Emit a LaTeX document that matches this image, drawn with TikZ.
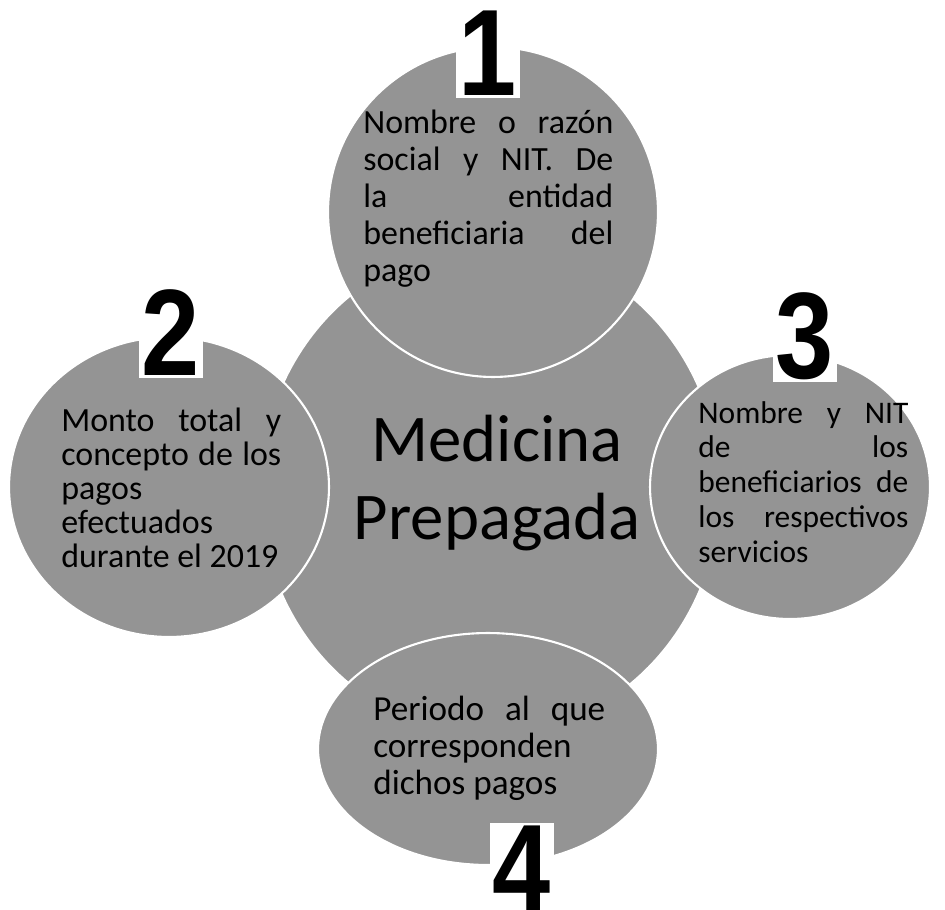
\documentclass[tikz,border=0pt]{standalone}
\usepackage{fontspec}
\setmainfont{Carlito}
\newfontfamily\numfont{Liberation Sans}
\usetikzlibrary{shapes.geometric}
\hyphenpenalty=10000
\exhyphenpenalty=10000
\hbadness=10000
\newcommand{\squish}[1]{\scalebox{0.85}[1]{#1}}
\tikzset{
  bubble/.style={ellipse, fill=black!42, draw=white, line width=1.2pt, inner sep=0pt},
  blurb/.style={anchor=north west, inner sep=0pt, align=justify},
  numbox/.style={anchor=base, fill=white, inner sep=1.5pt,
    font=\numfont\bfseries\fontsize{70pt}{70pt}\selectfont},
}
\begin{document}
\begin{tikzpicture}[x=0.02cm, y=-0.02cm]
\useasboundingbox (0,0) rectangle (945,909);
% the four bubbles sit on top of the big one
\node (cmed) [bubble, minimum width=9.2cm, minimum height=9.8cm] at (490,490) {};
\node (c1) [bubble, minimum width=6.6cm, minimum height=6.6cm] at (493,212) {};
\node (c2) [bubble, minimum width=6.4cm, minimum height=6cm] at (169,487) {};
\node (c3) [bubble, minimum width=5.6cm, minimum height=5.28cm] at (790,487) {};
\node (c4) [bubble, minimum width=6.8cm, minimum height=4.64cm] at (488,749) {};
% texts
\node (tmed) [anchor=north, inner sep=0pt, align=center,
  font=\fontsize{38pt}{44pt}\selectfont] at (497,415) {Medicina\\Prepagada};
\node (t1) [blurb, text width=5cm, font=\fontsize{19.3pt}{21pt}\selectfont] at (363,110)
  {Nombre o razón\linebreak social y NIT. De\linebreak la entidad\linebreak
   beneficiaria del\linebreak pago};
\node (t2) [blurb, text width=4.4cm, font=\fontsize{19.3pt}{19.3pt}\selectfont] at (61,408)
  {Monto total y\linebreak concepto de los\linebreak pagos\linebreak
   efectuados\linebreak durante el 2019};
\node (t3) [blurb, text width=4.2cm, font=\fontsize{17.9pt}{19.8pt}\selectfont] at (698,401)
  {Nombre y NIT\linebreak de los\linebreak beneficiarios de\linebreak
   los respectivos\linebreak servicios};
\node (t4) [blurb, text width=4.64cm, font=\fontsize{20pt}{21pt}\selectfont] at (373,696)
  {Periodo al que\linebreak corresponden\linebreak dichos pagos};
% numbers
\node (n1) [numbox] at (488,95) {\squish{1}};
\node (n2) [numbox] at (171,375) {\squish{2}};
\node (n3) [numbox] at (805,378) {\squish{3}};
\node (n4) [numbox] at (522,910) {\squish{4}};
\end{tikzpicture}
\end{document}
